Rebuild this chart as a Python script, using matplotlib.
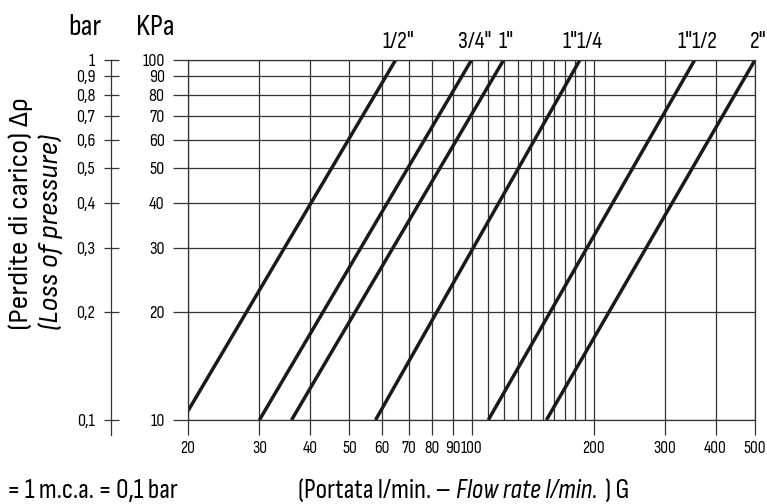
import matplotlib
matplotlib.use("Agg")
import matplotlib.pyplot as plt
from matplotlib.ticker import NullLocator, NullFormatter

plt.rcParams['font.family'] = ['Sofia Sans Condensed', 'DejaVu Sans']
plt.rcParams['font.weight'] = 'medium'
wide = ['Sofia Sans Semi Condensed', 'DejaVu Sans']

W, H = 767, 504

# pipe sizes, each line from (flow_low, dp_low) to (flow_high, dp_high)
sizes = ['1/2"', '3/4"', '1"', '1"1/4', '1"1/2', '2"']
flow_low = [20, 30, 36, 58, 110, 153]
dp_low = [10.6, 10, 10, 10, 10, 10]
flow_high = [65, 100, 120, 185, 355, 500]
dp_high = [100, 100, 100, 100, 100, 100]

x_major = [20, 30, 40, 50, 60, 70, 80, 90, 100, 200, 300, 400, 500]
x_minor = [110, 120, 130, 140, 150, 160, 170, 180, 190]
kpa_ticks = [10, 20, 30, 40, 50, 60, 70, 80, 90, 100]
bar_ticks = [0.1, 0.2, 0.3, 0.4, 0.5, 0.6, 0.7, 0.8, 0.9, 1.0]
bar_labels = ['0,1', '0,2', '0,3', '0,4', '0,5', '0,6', '0,7', '0,8', '0,9', '1']

gc = '#333333'
lc = '#1a1a1a'
px = 0.72  # points per pixel at dpi 100

fig = plt.figure(figsize=(W / 100, H / 100), dpi=100)
ax = fig.add_axes([188 / W, 1 - 420 / H, (755 - 188) / W, 360 / H])
ax.set_xscale('log')
ax.set_yscale('log')
ax.set_xlim(20, 500)
ax.set_ylim(10, 100)

ax.set_xticks(x_major, labels=[str(v) for v in x_major])
ax.set_xticks(x_minor, minor=True)
ax.xaxis.set_minor_formatter(NullFormatter())
ax.set_yticks(kpa_ticks, labels=[str(v) for v in kpa_ticks])
ax.yaxis.set_minor_locator(NullLocator())

ax.grid(True, which='major', color=gc, lw=0.9)
ax.grid(True, which='minor', axis='x', color=gc, lw=0.9)
ax.tick_params(which='minor', length=0)
ax.tick_params(axis='x', which='major', direction='out', length=15 * px,
               width=0.9, color=gc, pad=4, labelsize=12.5)
ax.tick_params(axis='y', which='major', direction='out', length=15 * px,
               width=0.9, color=gc, pad=6, labelsize=13)
for s in ax.spines.values():
    s.set_color(gc)
    s.set_linewidth(0.9)

# bar scale on the far left
loc = (111 - 188) / (755 - 188)
sec = ax.secondary_yaxis(loc, functions=(lambda v: v / 100, lambda v: v * 100))
sec.set_yticks(bar_ticks, labels=bar_labels)
sec.yaxis.set_minor_locator(NullLocator())
sec.tick_params(axis='y', which='major', direction='inout', length=15 * px,
                width=0.9, color=gc, pad=6, labelsize=13)
sec.spines['left'].set_visible(False)
ax.plot([loc, loc], [-15 / 360, 1], transform=ax.transAxes, clip_on=False,
        color=gc, lw=0.9)

for i in range(len(sizes)):
    ax.plot([flow_low[i], flow_high[i]], [dp_low[i], dp_high[i]],
            color=lc, lw=2.5, solid_capstyle='butt')
    ax.annotate(sizes[i], xy=(flow_high[i], dp_high[i]), xytext=(2, 6),
                textcoords='offset points', ha='center', va='bottom', fontsize=17)

fig.text(85 / W, 1 - 35 / H, 'bar', ha='center', va='baseline', fontsize=22)
fig.text(155 / W, 1 - 35 / H, 'KPa', ha='center', va='baseline', fontsize=22)

fig.text(21 / W, 1 - 330 / H, '(Perdite di carico) \u0394\u03c1', rotation=90,
         ha='center', va='bottom', fontsize=20, family=wide)
fig.text(51 / W, 1 - 330 / H, '(Loss of pressure)', rotation=90,
         ha='center', va='bottom', fontsize=20, style='italic', family=wide)

fig.text(178 / W, 1 - 498 / H, '= 1 m.c.a. = 0,1 bar', ha='right',
         va='baseline', fontsize=20)

t1 = fig.text(298 / W, 1 - 498 / H, '(Portata l/min. \u2013', ha='left',
              va='baseline', fontsize=20)
t2 = ax.annotate('Flow rate l/min.', xy=(1, 0), xycoords=t1, xytext=(4, 0),
                 textcoords='offset points', ha='left', va='bottom',
                 fontsize=20, style='italic')
ax.annotate(') G', xy=(1, 0), xycoords=t2, xytext=(5, 0),
            textcoords='offset points', ha='left', va='bottom', fontsize=20)

fig.savefig('out.png', dpi=100)
